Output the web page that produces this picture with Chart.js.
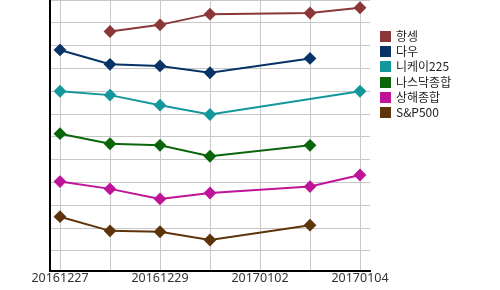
<!DOCTYPE html>
<html><head><meta charset="utf-8">
<script src="https://cdn.jsdelivr.net/npm/chart.js@4/dist/chart.umd.min.js"></script>
<style>
html,body{margin:0;padding:0;background:#fff;}
#wrap{position:relative;width:500px;height:290px;}
#legend{position:absolute;left:380px;top:28px;font-family:"Noto Sans CJK KR","Noto Sans",sans-serif;font-size:12px;color:#222;}
.li{height:15.2px;line-height:15.2px;white-space:nowrap;}
.sw{display:inline-block;width:11px;height:11px;vertical-align:-1px;margin-right:5px;}
</style></head>
<body><div id="wrap"><canvas id="c" width="500" height="290"></canvas><div id="legend"></div></div>
<script>
const dates = ['20161227','20161228','20161229','20161230','20170102','20170103','20170104'];
const seriesNames = ['항셍','다우','니케이225','나스닥종합','상해종합','S&P500'];
const hangseng = [null, 10.62, 10.91, 11.38, null, 11.43, 11.66];
const dow      = [9.81, 9.18, 9.11, 8.81, null, 9.44, null];
const nikkei   = [8.00, 7.83, 7.39, 6.98, null, null, 8.00];
const nasdaq   = [6.14, 5.70, 5.63, 5.15, null, 5.63, null];
const shanghai = [4.04, 3.72, 3.28, 3.54, null, 3.82, 4.33];
const sp500    = [2.50, 1.88, 1.84, 1.48, null, 2.13, null];
const colors = ['#8B3737','#073366','#14979B','#0B650B','#BE1498','#5E340A'];
const allSeries = [hangseng, dow, nikkei, nasdaq, shanghai, sp500];

const datasets = allSeries.map((arr, k) => ({
  label: seriesNames[k],
  data: arr.map((v, i) => ({x: i, y: v})),
  borderColor: colors[k],
  backgroundColor: colors[k],
  borderWidth: 2,
  pointStyle: 'rectRot',
  pointRadius: 5,
  pointHoverRadius: 5,
  spanGaps: true,
  tension: 0
}));

new Chart(document.getElementById('c'), {
  type: 'line',
  data: { datasets },
  options: {
    responsive: false,
    animation: false,
    events: [],
    layout: { autoPadding: false, padding: { left: 50, right: 130, top: 0, bottom: 4 } },
    plugins: { legend: { display: false }, tooltip: { enabled: false } },
    scales: {
      x: {
        type: 'linear', min: -0.2, max: 6.2,
        afterBuildTicks: s => { s.ticks = dates.map((d, i) => ({value: i})); },
        ticks: {
          autoSkip: false, maxRotation: 0, padding: 0,
          color: '#333',
          font: { family: '"Noto Sans", sans-serif', size: 12.5 },
          callback: (v) => (v % 2 === 0 ? dates[v] : '')
        },
        grid: { color: '#c8c8c8', lineWidth: 1, drawTicks: false },
        border: { display: true, color: '#000', width: 2 }
      },
      y: {
        type: 'linear', min: 0.12, max: 12,
        afterBuildTicks: s => { const t = []; for (let v = 1; v <= 12; v++) t.push({value: v}); s.ticks = t; },
        ticks: { display: false },
        grid: { color: '#c8c8c8', lineWidth: 1, drawTicks: false },
        border: { display: true, color: '#000', width: 2 }
      }
    }
  }
});

const lg = document.getElementById('legend');
seriesNames.forEach((n, k) => {
  const d = document.createElement('div'); d.className = 'li';
  const s = document.createElement('span'); s.className = 'sw'; s.style.background = colors[k];
  d.appendChild(s); d.appendChild(document.createTextNode(n)); lg.appendChild(d);
});
</script></body></html>
